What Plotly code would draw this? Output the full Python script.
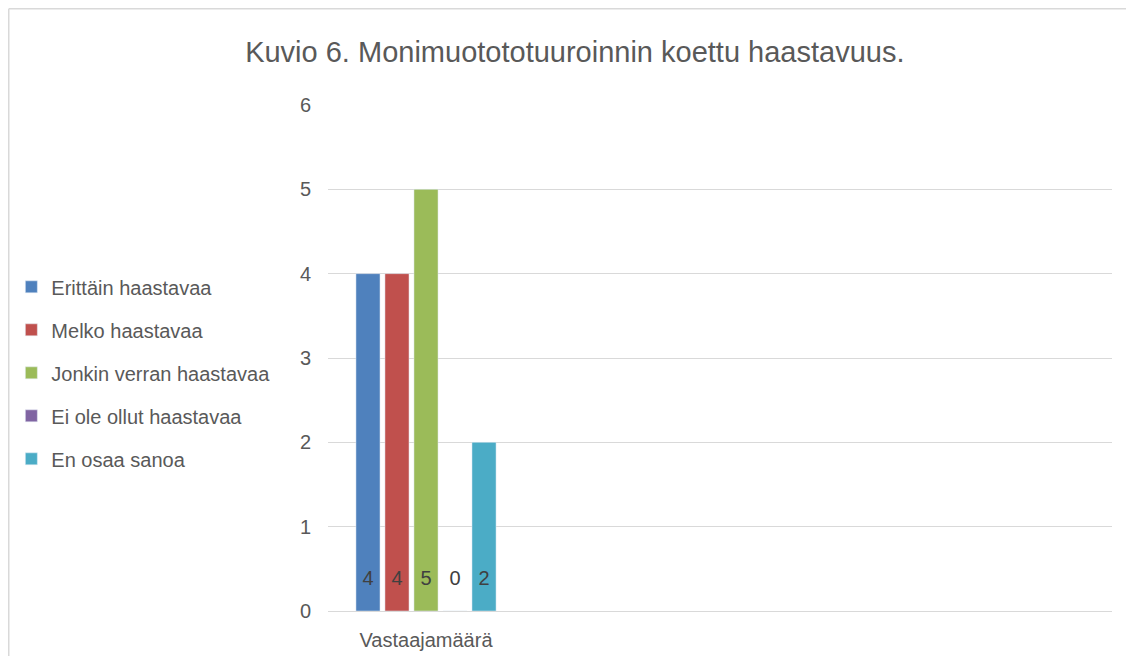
import plotly.graph_objects as go

categories = ["Vastaajamäärä"]
series_names = ["Erittäin haastavaa", "Melko haastavaa", "Jonkin verran haastavaa",
                "Ei ole ollut haastavaa", "En osaa sanoa"]
series_values = [[4], [4], [5], [0], [2]]
colors = ["#4F81BD", "#C0504D", "#9BBB59", "#8064A2", "#4BACC6"]
y_ticks = [0, 1, 2, 3, 4, 5, 6]

FONT = "Liberation Sans Narrow, Arial Narrow, Liberation Sans, Arial, sans-serif"
LABEL_Y = 0.37
GAP = 0.26

fig = go.Figure()
for i, (name, vals, col) in enumerate(zip(series_names, series_values, colors)):
    fig.add_trace(go.Bar(
        x=categories, y=vals, name=name, marker_color=col,
        offsetgroup=str(i), legendgroup=str(i),
        hoverinfo="y+name",
    ))
for i, (name, vals) in enumerate(zip(series_names, series_values)):
    fig.add_trace(go.Scatter(
        x=categories, y=[LABEL_Y] * len(vals), mode="text",
        text=[str(v) for v in vals], textposition="middle center",
        textfont=dict(family=FONT, size=20, color="#404040"),
        offsetgroup=str(i), showlegend=False, hoverinfo="skip",
    ))

frame_line = dict(color="#d9d9d9", width=1.5)
fig.update_layout(
    width=1118, height=648,
    paper_bgcolor="white", plot_bgcolor="white",
    margin=dict(l=320, r=14, t=97, b=45, autoexpand=False),
    barmode="group", bargap=GAP, bargroupgap=0.17,
    scattermode="group", scattergap=GAP,
    title=dict(text="Kuvio 6. Monimuotototuuroinnin koettu haastavuus.",
               x=0.507, xanchor="center", y=0.932, yanchor="middle",
               xref="container", yref="container",
               font=dict(family=FONT, size=29, color="#595959")),
    font=dict(family=FONT, size=20, color="#595959"),
    legend=dict(xref="container", yref="container", x=0.003, xanchor="left",
                y=0.437, yanchor="middle", traceorder="grouped",
                tracegroupgap=14, font=dict(family=FONT, size=20, color="#595959"),
                bgcolor="rgba(0,0,0,0)"),
    showlegend=True,
    xaxis=dict(type="category", range=[-0.5, 3.5], showgrid=False, showline=False,
               ticks="", tickfont=dict(family=FONT, size=20, color="#595959"),
               ticklabelstandoff=15, zeroline=False),
    yaxis=dict(range=[0, 6], tickvals=y_ticks, showgrid=True, gridcolor="#d9d9d9",
               gridwidth=1.3, zeroline=True, zerolinecolor="#d9d9d9", zerolinewidth=1.3,
               showline=False, ticks="", ticklabelstandoff=16,
               tickfont=dict(family=FONT, size=20, color="#595959")),
    shapes=[
        dict(type="line", xref="paper", yref="paper",
             x0=-0.4072, x1=1.2, y0=1.1902, y1=1.1902, line=frame_line, layer="below"),
        dict(type="line", xref="paper", yref="paper",
             x0=-0.4072, x1=-0.4072, y0=-0.3, y1=1.1902, line=frame_line, layer="below"),
    ],
)

fig.write_html("out.html")
